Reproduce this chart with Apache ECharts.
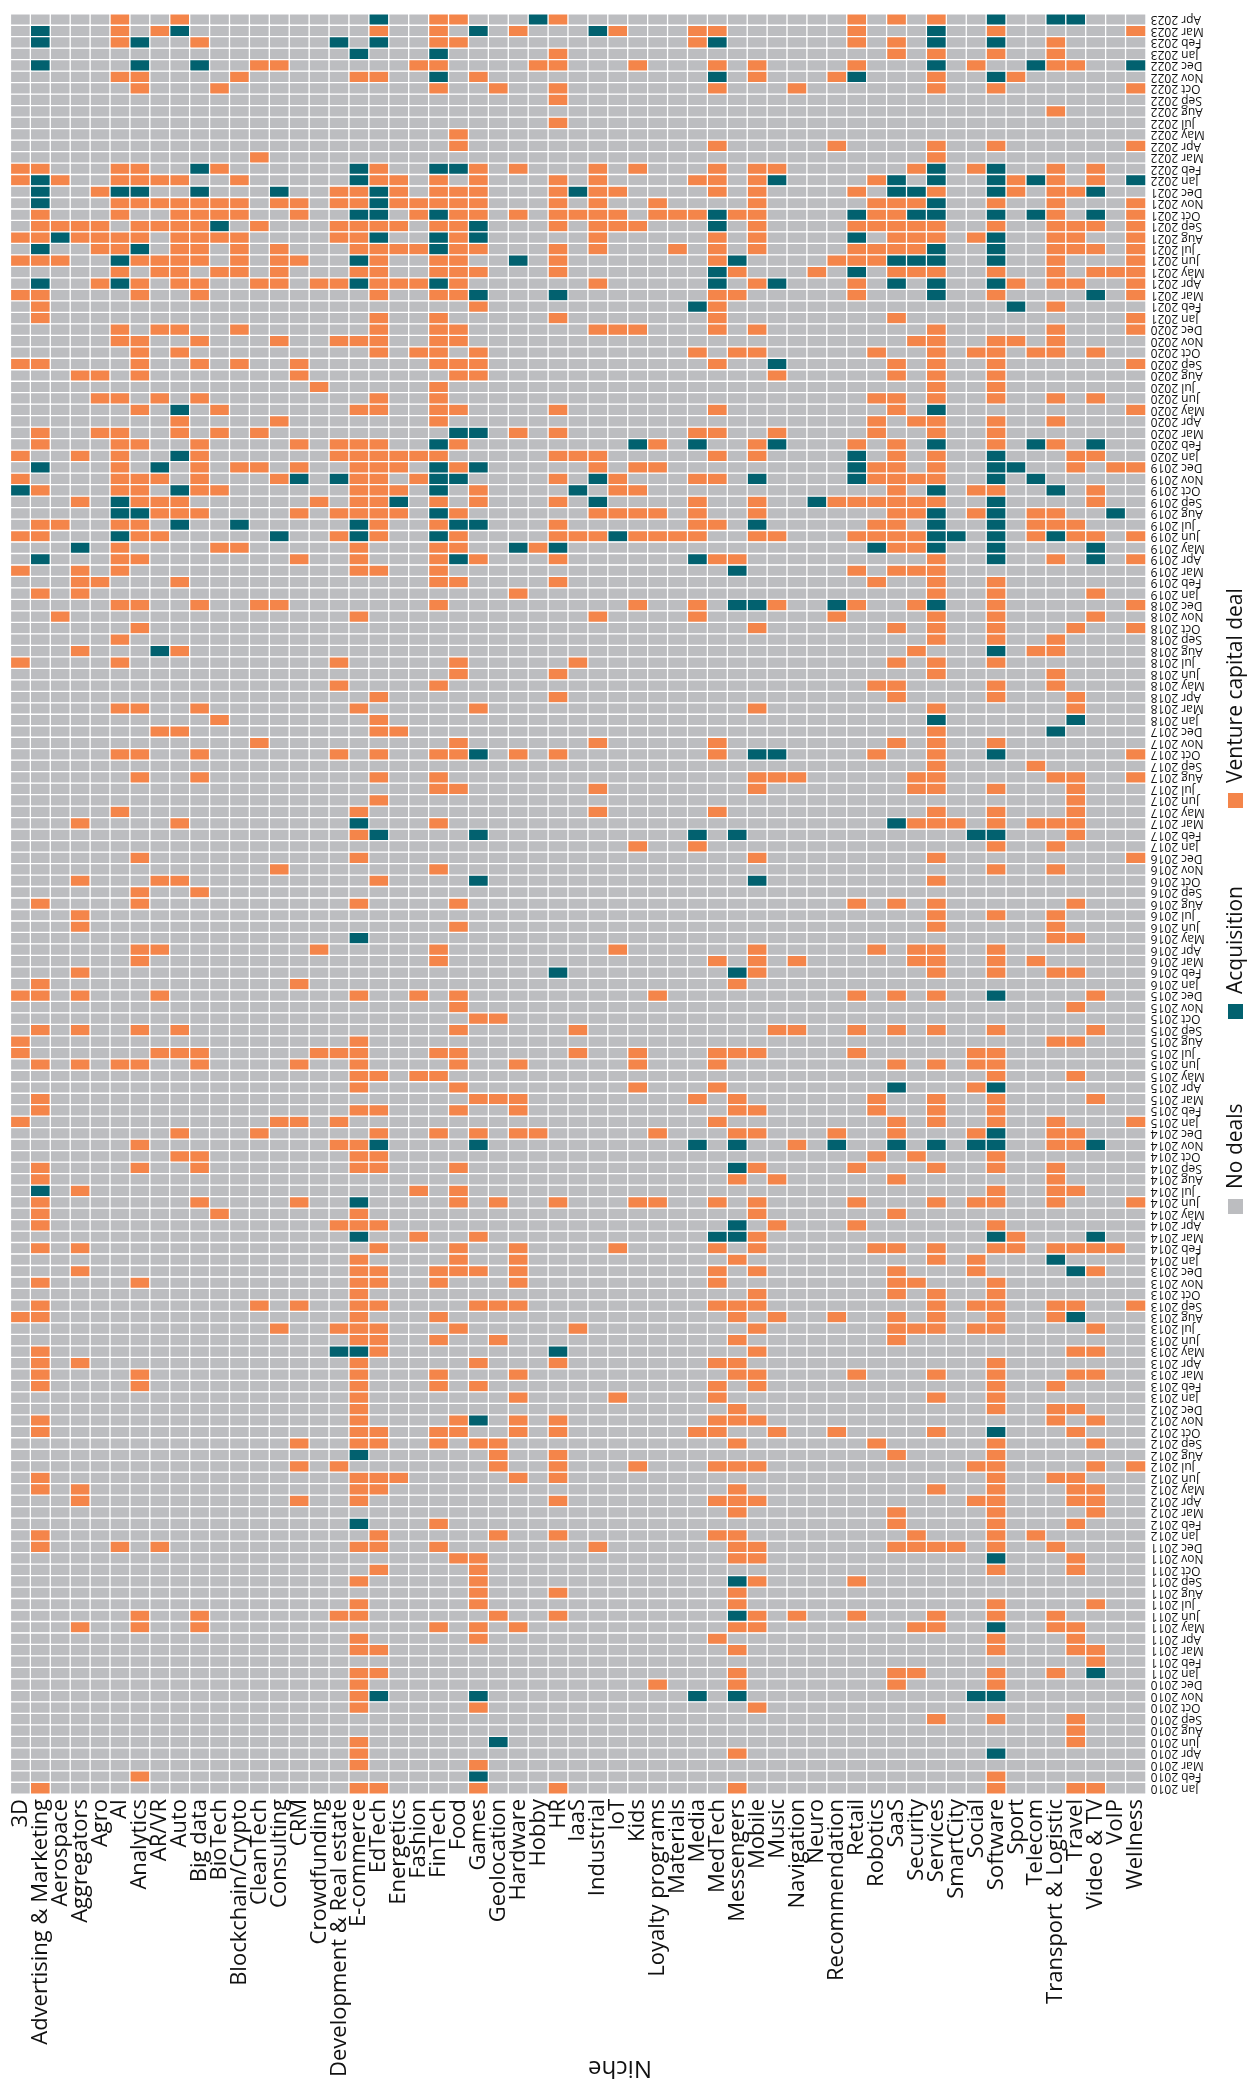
<!DOCTYPE html>
<html><head><meta charset="utf-8">
<script src="https://cdn.jsdelivr.net/npm/echarts@6/dist/echarts.min.js"></script>
<style>html,body{margin:0;padding:0;background:#fff}#c{width:1248px;height:2089px}</style>
</head><body><div id="c"></div>
<script>
const niches = ["3D","Advertising & Marketing","Aerospace","Aggregators","Agro","AI","Analytics","AR/VR","Auto","Big data","BioTech","Blockchain/Crypto","CleanTech","Consulting","CRM","Crowdfunding","Development & Real estate","E-commerce","EdTech","Energetics","Fashion","FinTech","Food","Games","Geolocation","Hardware","Hobby","HR","IaaS","Industrial","IoT","Kids","Loyalty programs","Materials","Media","MedTech","Messengers","Mobile","Music","Navigation","Neuro","Recommendation","Retail","Robotics","SaaS","Security","Services","SmartCity","Social","Software","Sport","Telecom","Transport & Logistic","Travel","Video & TV","VoIP","Wellness"];

// months listed top to bottom as in the picture (months without any deal are absent)
const months = ["Apr 2023","Mar 2023","Feb 2023","Jan 2023",
"Dec 2022","Nov 2022","Oct 2022","Sep 2022","Aug 2022","Jul 2022","May 2022","Apr 2022","Mar 2022","Feb 2022","Jan 2022",
"Dec 2021","Nov 2021","Oct 2021","Sep 2021","Aug 2021","Jul 2021","Jun 2021","May 2021","Apr 2021","Mar 2021","Feb 2021","Jan 2021",
"Dec 2020","Nov 2020","Oct 2020","Sep 2020","Aug 2020","Jul 2020","Jun 2020","May 2020","Apr 2020","Mar 2020","Feb 2020","Jan 2020",
"Dec 2019","Nov 2019","Oct 2019","Sep 2019","Aug 2019","Jul 2019","Jun 2019","May 2019","Apr 2019","Mar 2019","Feb 2019","Jan 2019",
"Dec 2018","Nov 2018","Oct 2018","Sep 2018","Aug 2018","Jul 2018","Jun 2018","May 2018","Apr 2018","Mar 2018","Jan 2018",
"Dec 2017","Nov 2017","Oct 2017","Sep 2017","Aug 2017","Jul 2017","Jun 2017","May 2017","Mar 2017","Feb 2017","Jan 2017",
"Dec 2016","Nov 2016","Oct 2016","Sep 2016","Aug 2016","Jul 2016","Jun 2016","May 2016","Apr 2016","Mar 2016","Feb 2016","Jan 2016",
"Dec 2015","Nov 2015","Oct 2015","Sep 2015","Aug 2015","Jul 2015","Jun 2015","May 2015","Apr 2015","Mar 2015","Feb 2015","Jan 2015",
"Dec 2014","Nov 2014","Oct 2014","Sep 2014","Aug 2014","Jul 2014","Jun 2014","May 2014","Apr 2014","Mar 2014","Feb 2014","Jan 2014",
"Dec 2013","Nov 2013","Oct 2013","Sep 2013","Aug 2013","Jul 2013","Jun 2013","May 2013","Apr 2013","Mar 2013","Feb 2013","Jan 2013",
"Dec 2012","Nov 2012","Oct 2012","Sep 2012","Aug 2012","Jul 2012","Jun 2012","May 2012","Apr 2012","Mar 2012","Feb 2012","Jan 2012",
"Dec 2011","Nov 2011","Oct 2011","Sep 2011","Aug 2011","Jul 2011","Jun 2011","May 2011","Apr 2011","Mar 2011","Feb 2011","Jan 2011",
"Dec 2010","Nov 2010","Oct 2010","Sep 2010","Aug 2010","Jun 2010","Apr 2010","Mar 2010","Feb 2010","Jan 2010"];

// per month: niche index + deal type (v = venture capital deal, a = acquisition); all others = no deals
const deals = [
"5v 8v 18a 21v 22v 26a 27v 42v 44v 46v 49a 52a 53a",
"1a 5v 7v 8a 18v 21v 23a 25v 29a 30v 34v 35v 42v 46a 49v 56v",
"1a 5v 6a 9v 16a 18a 21v 22v 34v 35a 42v 44v 46a 49a 52v",
"17a 21a 27v 44v 46v 49v 52v",
"1a 6a 9a 12v 13v 20v 21v 26v 27v 31v 35v 37v 42v 46a 48v 51a 52v 53v 56a",
"5v 6v 11v 17v 18v 21a 23v 35a 37v 41v 42a 46v 49a 50v",
"6v 10v 21v 24v 27v 35v 39v 46v 49v 56v",
"27v",
"52v",
"27v",
"22v",
"22v 35v 41v 46v 49v 56v",
"12v 46v",
"0v 1v 5v 6v 9a 10v 17a 18v 21a 22a 23v 25v 29v 31v 35v 37v 38v 45v 46a 48v 49a 52v 54v",
"0v 1a 2v 5v 6v 7v 8v 11v 17a 18v 19v 21v 23v 27v 29v 34v 35v 37v 38a 43v 44a 46a 49a 50v 51a 52v 54v 56a",
"1a 4v 5a 6a 9a 13a 16v 17v 18a 19v 21v 22v 23v 27v 28a 29v 30v 35v 37v 42v 44a 45a 46v 49a 50v 52v 53v 54a",
"1a 5v 6v 7v 8v 9v 10v 11v 13v 14v 16v 17v 18a 19v 20v 21v 22v 23v 27v 29v 32v 37v 43v 44v 45v 46a 49v 52v 56v",
"1v 5v 8v 9v 10v 11v 14v 17a 18a 20v 21a 22v 23v 25v 27v 28v 29v 30v 32v 33v 34v 35a 36v 37v 42a 43v 44v 45a 46a 49a 51a 52v 54a 56v",
"1v 2v 3v 4v 6v 7v 8v 9v 10a 12v 16v 17v 18v 19v 21v 22v 23a 27v 29v 30v 31v 35a 37v 42v 43v 44v 45v 46v 49v 52v 53v 54v 56v",
"0v 1v 2a 3v 4v 5v 6v 8v 9v 10v 11v 16v 17v 18a 21a 22v 23a 29v 35v 37v 42a 44v 45v 46v 48v 49a 52v 53v 56v",
"1a 4v 5v 6a 8v 9v 11v 13v 17v 18v 19v 20v 21a 22v 23v 27v 29v 33v 35v 37v 42v 43v 44v 45v 46a 49a 52v 53v 54v 56v",
"0v 1v 2v 5a 6v 7v 8v 9v 11v 13v 14v 17a 18v 21v 22v 25a 27v 35v 36a 41v 42v 43v 44a 45a 46a 49a 52v 56v",
"5v 7v 8v 10v 11v 13v 17v 18v 21v 22v 23v 27v 35a 36v 40v 42a 44v 45v 46v 49v 52v 54v 55v 56v",
"1a 4v 5a 6v 8v 9v 12v 13v 15v 16v 17a 18v 19v 20v 21a 22v 29v 35a 37v 38a 42v 44a 46a 49a 50v 52v 53v 56v",
"0v 1v 6v 9v 18v 21v 22v 23a 27a 35v 36v 42v 46a 49v 54a 56v",
"1v 23v 34a 35v 50a 52v",
"1v 18v 21v 27v 35v 44v 56v",
"5v 7v 8v 11v 18v 21v 22v 29v 30v 31v 35v 37v 46v 52v 56v",
"5v 6v 9v 13v 16v 17v 18v 21v 22v 45v 46v 49v 50v 52v",
"6v 8v 18v 20v 21v 23v 34v 36v 37v 43v 46v 48v 49v 51v 52v 54v",
"0v 1v 6v 9v 11v 14v 21v 22v 23v 35v 38a 44v 46v 49v 56v",
"3v 4v 6v 14v 22v 23v 38v 44v 46v 49v",
"15v 21v 46v 49v",
"4v 5v 7v 9v 18v 21v 43v 44v 46v 49v 52v 54v",
"6v 8a 10v 17v 18v 21v 22v 27v 35v 44v 46a 56v",
"8v 13v 21v 43v 45v 46v 49v 52v",
"1v 4v 5v 8v 10v 12v 22a 23a 25v 27v 34v 35v 38v 43v 46v 49v",
"1v 5v 6v 9v 14v 16v 17v 18v 21a 22v 31a 32v 34a 37v 38a 42v 44v 46a 49v 51a 52v 54a",
"0v 3v 5v 8a 9v 16v 17v 18v 19v 20v 21v 27v 28v 29v 35v 37v 42a 44v 46v 49a 53v 54v",
"1a 5v 7a 9v 11v 12v 14v 17v 18v 19v 21a 22v 23a 29v 31v 32v 42a 43v 44v 46v 49a 50a 53v 55v 56v",
"0v 5v 6v 7v 9v 13v 14a 16a 17v 18v 20v 21a 22a 27v 29a 30v 34v 35v 37a 42a 43v 44v 45v 46v 49a 51a",
"0a 1v 5v 6v 8a 9v 10v 17v 18v 19v 21a 23v 28a 30v 31v 44v 46a 48v 49v 52a 54v",
"3v 5a 6v 7v 8v 15v 17v 18v 19a 21v 23v 27v 29a 34v 37v 40a 41v 42v 43v 44v 45v 46v 49a 54v",
"5a 6a 7v 8v 9v 14v 16v 17v 18v 19v 21a 22v 29v 30v 31v 32v 34v 37v 44v 45v 46a 48v 49a 51v 52v 55a",
"1v 2v 5v 6v 8a 11a 17a 18v 21v 22a 23a 27v 34v 35v 37a 43v 44v 46a 49a 51v 52v 53v",
"0v 1v 5a 6v 7v 13a 16v 17a 18v 21a 22v 27v 28v 29v 30a 31v 32v 33v 34v 37v 38v 42v 43v 44v 45v 46a 47a 49a 51v 52a 53v 54v 56v",
"3a 5v 10v 11v 17v 21v 22v 25a 26v 27a 43a 44v 45v 46a 49a 54a",
"1a 5v 6v 14v 17v 21v 22a 23v 27v 34a 35v 36v 46v 49a 52v 54a 56v",
"0v 3v 5v 17v 18v 21v 36a 42v 44v 45v 46v",
"3v 4v 8v 21v 22v 27v 43v 46v 49v",
"1v 3v 25v 46v 49v 54v",
"5v 6v 9v 12v 13v 21v 31v 34v 36a 37a 38v 41a 42v 45v 46a 49v 56v",
"2v 17v 29v 34v 41v 46v 49v 54v",
"6v 37v 44v 46v 49v 53v 56v",
"5v 46v 49v 52v",
"3v 7a 8v 45v 49a 51v 52v",
"0v 5v 16v 22v 28v 44v 46v 49v",
"22v 27v 46v 52v",
"16v 21v 43v 44v 49v 52v",
"18v 27v 44v 49v 53v",
"5v 6v 9v 17v 23v 37v 46v 53v",
"10v 18v 46a 53a",
"7v 8v 18v 19v 46v 52a",
"12v 22v 29v 35v 44v 46v 49v",
"5v 6v 9v 16v 18v 21v 22v 23a 25v 27v 35v 37a 38a 43v 46v 49a 56v",
"46v 51v",
"6v 9v 18v 21v 37v 38v 39v 45v 46v 52v 53v 56v",
"21v 22v 29v 37v 45v 46v 49v 53v",
"18v 53v",
"5v 17v 29v 35v 46v 49v 53v",
"3v 8v 17a 21v 44a 45v 46v 47v 49v 51v 52v 53v",
"17v 18a 23a 34a 36a 48a 49a 53v",
"31v 34v 49v 52v",
"6v 17v 37v 46v 56v",
"13v 21v 49v 52v",
"3v 7v 8v 18v 23a 37a 46v",
"6v 9v",
"1v 6v 17v 22v 42v 44v 46v 53v",
"3v 46v 49v 52v",
"3v 22v 46v 52v",
"17a 52v 53v",
"6v 7v 15v 21v 30v 37v 43v 45v 46v 49v",
"6v 21v 35v 37v 39v 45v 46v 49v 51v",
"3v 27a 36a 37v 46v 49v 52v 53v",
"1v 14v 36v",
"0v 1v 3v 7v 17v 20v 22v 32v 42v 44v 46v 49a 54v",
"22v 53v",
"23v 24v",
"1v 3v 6v 8v 22v 28v 38v 39v 42v 44v 46v 49v 54v",
"0v 17v 52v 53v",
"0v 7v 8v 9v 15v 16v 17v 21v 22v 28v 31v 35v 36v 37v 42v 48v 49v",
"1v 3v 5v 6v 9v 14v 17v 22v 25v 31v 35v 44v 46v 48v 49v",
"17v 18v 20v 21v 49v 53v",
"17v 22v 31v 35v 44a 48v 49a",
"1v 23v 24v 25v 34v 36v 43v 46v 49v 54v",
"1v 17v 18v 22v 25v 36v 37v 43v 46v 49v",
"0v 13v 14v 16v 35v 44v 46v 49v 52v 56v",
"8v 12v 18v 21v 23v 25v 26v 32v 36v 37v 41v 44v 48v 49a 52v 53v",
"6v 16v 17v 18a 23a 34a 36a 39v 41a 44a 46a 48a 49a 52v 53v 54a",
"8v 9v 17v 18v 43v 45v 49v",
"1v 6v 9v 17v 18v 22v 36a 37v 42v 46v 49v 52v",
"1v 36v 38v 44v 52v",
"1a 3v 20v 22v 49v 52v 53v",
"1v 9v 14v 17a 22v 24v 27v 31v 32v 35v 37v 42v 46v 48v 49v 52v 56v",
"1v 10v 17v 37v 44v",
"1v 16v 17v 18v 36a 38v 42v 49v",
"17a 20v 23v 35a 36a 37v 49a 50v 54a",
"1v 3v 18v 22v 25v 30v 35v 37v 43v 44v 46v 49v 50v 52v 53v 54v 55v",
"17v 22v 25v 36v 46v 48v 52a",
"3v 17v 18v 21v 22v 23v 25v 35v 37v 44v 48v 53a 54v",
"1v 6v 17v 18v 21v 25v 35v 44v 45v 49v",
"17v 37v 44v 46v 49v",
"1v 12v 14v 17v 18v 23v 24v 25v 35v 36v 37v 46v 48v 49v 52v 53v 56v",
"0v 1v 17v 21v 36v 38v 41v 44v 46v 49v 52v 53a",
"13v 16v 17v 18v 22v 28v 37v 44v 45v 46v 48v 49v 54v",
"17v 18v 21v 24v 36v 44v",
"1v 16a 17a 18v 27a 37v 53v 54v",
"1v 3v 17v 23v 27v 35v 36v 49v",
"1v 6v 17v 21v 25v 36v 37v 42v 46v 49v 53v 54v",
"1v 6v 17v 21v 23v 35v 37v 49v 52v",
"17v 25v 30v 35v 46v 49v",
"17v 36v 49v 52v 53v",
"1v 17v 22v 23a 25v 27v 35v 36v 37v 52v 54v",
"1v 17v 18v 21v 22v 25v 27v 34v 35v 38v 41v 46v 49a 53v",
"14v 17v 18v 21v 23v 24v 36v 43v 49v 54v",
"17a 24v 27v 44v 49v",
"14v 16v 24v 27v 31v 35v 36v 37v 48v 49v 54v 56v",
"1v 17v 18v 19v 25v 27v 49v 52v 53v",
"1v 3v 17v 18v 36v 46v 49v 53v 54v",
"3v 14v 17v 27v 35v 36v 37v 48v 49v 53v 54v",
"36v 44v 49v 54v",
"17a 21v 44v 49v 53v",
"1v 18v 24v 27v 35v 36v 45v 49v 51v",
"1v 5v 7v 17v 18v 21v 29v 36v 37v 44v 45v 46v 47v 49v 52v",
"22v 23v 36v 37v 49a 53v",
"18v 23v 49v 53v",
"17v 23v 36a 37v 42v",
"23v 27v 36v",
"17v 23v 36v 49v 54v",
"6v 9v 16v 17v 24v 27v 36a 37v 39v 42v 46v 49v 52v",
"3v 6v 9v 21v 23v 25v 36v 37v 45v 46v 49a 52v 53v",
"17v 23v 35v 49v 53v",
"17v 18v 36v 49v 53v 54v",
"54v",
"17v 18v 36v 44v 45v 49v 52v 54a",
"17v 32v 36v 44v 49v",
"17v 18a 23a 34a 36a 48a 49a",
"17v 23v 37v",
"46v 49v 53v",
"53v",
"17v 24a 53v",
"17v 36v 49a",
"17v 23v",
"6v 23a 49v",
"1v 17v 18v 23v 27v 36v 49v 53v 54v"
];

const dealTypes = ["No deals", "Acquisition", "Venture capital deal"];
const dealColors = ["#bcbdc0", "#02616f", "#f4854a"];
const axisTitle = "Niche";
const FONT = "Open Sans";

const cells = [];
months.forEach((m, r) => {
  const row = new Array(niches.length).fill(0);
  deals[r].split(" ").filter(Boolean).forEach(tok => {
    const idx = parseInt(tok, 10);
    row[idx] = tok.slice(-1) === "a" ? 1 : 2;
  });
  row.forEach((v, c) => cells.push([c, r, v]));
});

// rotated legend (reads bottom to top), keys below their labels
const legendItems = [
  {key: 0, top: 1199, textStart: 1189},
  {key: 1, top: 1004, textStart: 994},
  {key: 2, top: 793, textStart: 783}
];
const graphic = [];
legendItems.forEach(it => {
  graphic.push({type: "rect", shape: {x: 1228, y: it.top, width: 15, height: 15}, style: {fill: dealColors[it.key]}, silent: true});
  graphic.push({type: "text", x: 1247, y: it.textStart, rotation: Math.PI / 2,
    style: {text: dealTypes[it.key], fontSize: 21, fontFamily: FONT, fill: "#111", align: "left", verticalAlign: "bottom"}, silent: true});
});
// axis title, upside down as in the picture
graphic.push({type: "text", x: 620, y: 2068, rotation: Math.PI,
  style: {text: axisTitle, fontSize: 24, fontFamily: FONT, fill: "#111", align: "center", verticalAlign: "middle"}, silent: true});

const chart = echarts.init(document.getElementById("c"), null, {renderer: "canvas"});
chart.setOption({
  animation: false,
  backgroundColor: "#ffffff",
  grid: {left: 10.7, right: 102.3, top: 14, bottom: 295, containLabel: false},
  xAxis: {
    type: "category", data: niches, position: "bottom",
    axisLine: {show: false}, axisTick: {show: false}, splitLine: {show: false},
    axisLabel: {rotate: 90, interval: 0, fontSize: 22, fontFamily: FONT, color: "#111", margin: 5}
  },
  yAxis: {
    type: "category", data: months, inverse: true, position: "right",
    axisLine: {show: false}, axisTick: {show: false}, splitLine: {show: false},
    axisLabel: {rotate: 180, interval: 0, fontSize: 12, fontFamily: FONT, color: "#111", margin: 5}
  },
  visualMap: {
    type: "piecewise", show: false, dimension: 2, seriesIndex: 0,
    pieces: [
      {value: 0, color: dealColors[0], label: dealTypes[0]},
      {value: 1, color: dealColors[1], label: dealTypes[1]},
      {value: 2, color: dealColors[2], label: dealTypes[2]}
    ]
  },
  series: [{
    type: "heatmap", data: cells,
    itemStyle: {borderColor: "#ffffff", borderWidth: 1.3},
    emphasis: {disabled: true}
  }],
  graphic: graphic
});
</script>
</body></html>
